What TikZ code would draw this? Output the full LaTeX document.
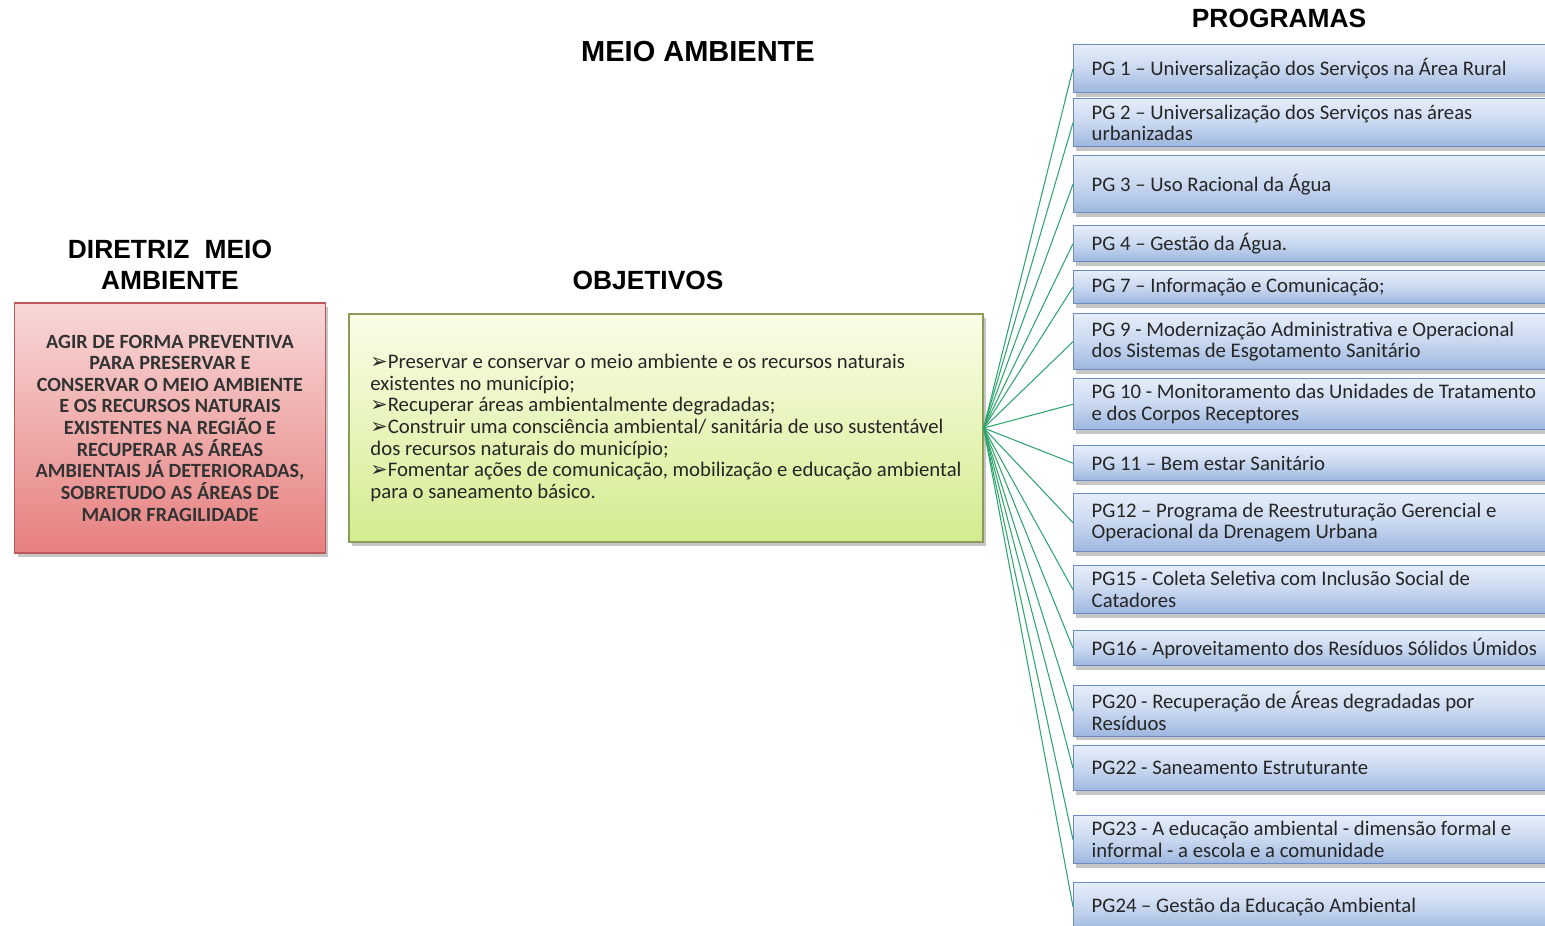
\documentclass[tikz,border=0pt]{standalone}
\usepackage{fontspec}
\setmainfont{Carlito}
\newfontfamily\headfont{Liberation Sans}
\newfontfamily\arrowfont{DejaVu Sans}
\usetikzlibrary{shadows}
\definecolor{redtop}{HTML}{F8D8D8}
\definecolor{redbot}{HTML}{E6807F}
\definecolor{redline}{HTML}{B9595A}
\definecolor{greentop}{HTML}{FBFDE8}
\definecolor{greenbot}{HTML}{D3EC8E}
\definecolor{greenline}{HTML}{8C9A5A}
\definecolor{bluetop}{HTML}{E6EEF9}
\definecolor{bluemid}{HTML}{C9D8F0}
\definecolor{bluebot}{HTML}{9DB6DF}
\definecolor{blueline}{HTML}{6C8CC0}
\definecolor{linkgreen}{HTML}{2FA46C}
\newcommand{\bul}{{\arrowfont ➢}}
\tikzset{
  heading/.style={
    font=\headfont\bfseries\fontsize{15}{17.5}\selectfont,
    align=center
  },
  goalbox/.style={
    draw=redline,
    line width=0.8pt,
    top color=redtop,
    bottom color=redbot,
    minimum width=6.22cm,
    minimum height=5cm,
    align=center,
    text=black!80,
    font=\bfseries\fontsize{11.5}{12.3}\selectfont,
    drop shadow={shadow xshift=0.06cm, shadow yshift=-0.08cm, opacity=0.45}
  },
  aimbox/.style={
    draw=greenline,
    line width=0.8pt,
    top color=greentop,
    bottom color=greenbot,
    minimum width=12.68cm,
    minimum height=4.56cm,
    align=left,
    text=black!85,
    font=\fontsize{11.8}{12.3}\selectfont,
    drop shadow={shadow xshift=0.06cm, shadow yshift=-0.08cm, opacity=0.45}
  },
  prog/.style={
    draw=blueline,
    line width=0.8pt,
    top color=bluetop,
    bottom color=bluebot,
    middle color=bluemid,
    anchor=north west,
    minimum width=9.74cm,
    inner xsep=0.36cm,
    text width=9.02cm,
    align=flush left,
    text=black!85,
    font=\fontsize{11.8}{12.3}\selectfont,
    drop shadow={shadow xshift=0.04cm, shadow yshift=-0.08cm, opacity=0.45}
  },
  link/.style={
    draw=linkgreen,
    line width=0.6pt
  }
}

\begin{document}
\begin{tikzpicture}[x=0.02cm,y=-0.02cm]
  \useasboundingbox (0,0) rectangle (1545,926);
  \clip (0,0) rectangle (1545,926);

  \node[heading,font=\headfont\bfseries\fontsize{16.5}{19}\selectfont] (title) at (698,52) {MEIO AMBIENTE};
  \node[heading] (progtitle) at (1279,18) {PROGRAMAS};
  \node[heading] (goaltitle) at (170,265) {DIRETRIZ\hspace{0.3em} MEIO\\AMBIENTE};
  \node[heading] (aimtitle) at (648,280) {OBJETIVOS};

  \node[goalbox] (goal) at (170,428) {AGIR DE FORMA PREVENTIVA\\PARA PRESERVAR E\\CONSERVAR O MEIO AMBIENTE\\E OS RECURSOS NATURAIS\\EXISTENTES NA REGIÃO E\\RECUPERAR AS ÁREAS\\AMBIENTAIS JÁ DETERIORADAS,\\SOBRETUDO AS ÁREAS DE\\MAIOR FRAGILIDADE};

  \node[aimbox] (obj) at (666,428) {\bul Preservar e conservar o meio ambiente e os recursos naturais\\existentes no município;\\\bul Recuperar áreas ambientalmente degradadas;\\\bul Construir uma consciência ambiental/ sanitária de uso sustentável\\dos recursos naturais do município;\\\bul Fomentar ações de comunicação, mobilização e educação ambiental\\para o saneamento básico.};

  \foreach \n/\y/\h/\t in {
      1/44/48/{PG 1 – Universalização dos Serviços na Área Rural},
      2/98/48/{PG 2 – Universalização dos Serviços nas áreas\\urbanizadas},
      3/155/57/{PG 3 – Uso Racional da Água},
      4/225/36/{PG 4 – Gestão da Água.},
      7/270/33/{PG 7 – Informação e Comunicação;},
      9/313/56/{PG 9 - Modernização Administrativa e Operacional\\dos Sistemas de Esgotamento Sanitário},
      10/378/48/{PG 10 - Monitoramento das Unidades de Tratamento\\e dos Corpos Receptores},
      11/445/35/{PG 11 – Bem estar Sanitário},
      12/493/58/{PG12 – Programa de Reestruturação Gerencial e\\Operacional da Drenagem Urbana},
      15/565/46/{PG15 - Coleta Seletiva com Inclusão Social de\\Catadores},
      16/630/35/{PG16 - Aproveitamento dos Resíduos Sólidos Úmidos},
      20/685/47/{PG20 - Recuperação de Áreas degradadas por\\Resíduos},
      22/745/45/{PG22 - Saneamento Estruturante},
      23/815/47/{PG23 - A educação ambiental - dimensão formal e\\informal - a escola e a comunidade},
      24/882/48/{PG24 – Gestão da Educação Ambiental}}{
    \node[prog,minimum height=\h*0.02cm] (pg\n) at (1073,\y) {\spaceskip=0pt\relax\t};
    \draw[link] (obj.east) -- (pg\n.west);
  }
\end{tikzpicture}
\end{document}
